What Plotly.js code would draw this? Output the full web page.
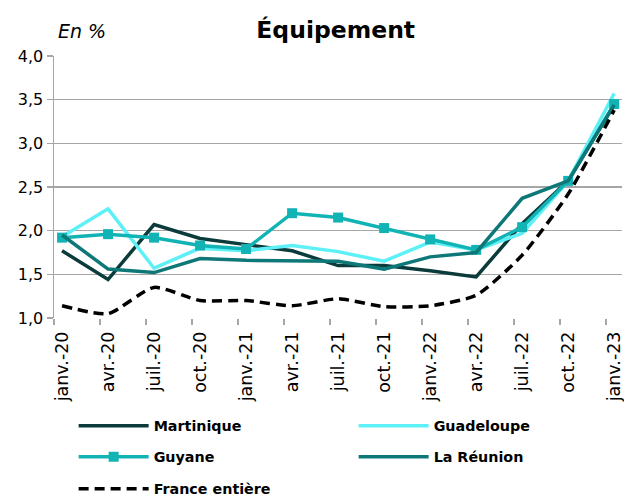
<!DOCTYPE html>
<html><head><meta charset="utf-8">
<script src="https://cdn.plot.ly/plotly-3.0.1.min.js"></script>
<style>body{margin:0;background:#fff}#c{width:624px;height:497px}</style>
</head><body><div id="c"></div>
<script>
const categories = ["janv.-20","avr.-20","juil.-20","oct.-20","janv.-21","avr.-21","juil.-21","oct.-21","janv.-22","avr.-22","juil.-22","oct.-22","janv.-23"];
const martinique = [1.77,1.44,2.07,1.91,1.84,1.77,1.60,1.60,1.54,1.47,2.08,2.57,3.44];
const guadeloupe = [1.93,2.25,1.57,1.80,1.77,1.83,1.76,1.65,1.87,1.78,1.97,2.57,3.57];
const guyane = [1.92,1.96,1.92,1.83,1.79,2.20,2.15,2.03,1.90,1.78,2.04,2.57,3.45];
const reunion = [1.95,1.56,1.52,1.68,1.66,1.65,1.65,1.56,1.70,1.75,2.37,2.57,3.44];
const france = [1.14,1.05,1.35,1.20,1.20,1.14,1.22,1.13,1.14,1.26,1.72,2.42,3.38];
const yTicks = [1.0,1.5,2.0,2.5,3.0,3.5,4.0];
const yTickText = ["1,0","1,5","2,0","2,5","3,0","3,5","4,0"];

const font = "DejaVu Sans, Verdana, sans-serif";
const traces = [
  {name:"Martinique", y:martinique, line:{color:"#0C3B3B", width:3.5}, legend:"legend"},
  {name:"Guadeloupe", y:guadeloupe, line:{color:"#5DF0F6", width:3.5}, legend:"legend"},
  {name:"Guyane", y:guyane, line:{color:"#12B3B5", width:3.5}, mode:"lines+markers", marker:{symbol:"square", size:10, color:"#12B3B5"}, legend:"legend2"},
  {name:"La Réunion", y:reunion, line:{color:"#0E7878", width:3.5}, legend:"legend2"},
  {name:"France entière", y:france, line:{color:"#000000", width:3.5, dash:"10px,6px", shape:"spline", smoothing:0.6}, legend:"legend3"}
].map(t => Object.assign({type:"scatter", mode:"lines", x:categories, hoverinfo:"skip"}, t));

// tick-mark-only overlay axis (invisible point below range)
traces.push({type:"scatter", mode:"markers", x:[0], y:[0], xaxis:"x2", yaxis:"y", showlegend:false, hoverinfo:"skip", marker:{opacity:0}});

const n = categories.length;
const xr = [-0.175, n - 1 + 0.17];
const legendBase = {orientation:"h", xref:"container", yref:"container", x:0.118, xanchor:"left", yanchor:"middle",
  entrywidth:195, entrywidthmode:"pixels", itemwidth:70, bgcolor:"rgba(0,0,0,0)",
  font:{family:font, size:14.3, color:"#000", weight:"bold"}, traceorder:"normal", itemclick:false};
const layout = {
  width:624, height:497,
  margin:{l:54, r:2, t:56, b:179, autoexpand:false},
  paper_bgcolor:"#fff", plot_bgcolor:"#fff",
  font:{family:font, color:"#000", size:14},
  title:{text:"<b>Équipement</b>", font:{size:23.5, family:font, color:"#000"}, x:0.538, xanchor:"center", y:0.94, yanchor:"middle", xref:"container", yref:"container"},
  showlegend:true,
  legend:Object.assign({}, legendBase, {y:1 - 426/497}),
  legend2:Object.assign({}, legendBase, {y:1 - 457/497}),
  legend3:Object.assign({}, legendBase, {y:1 - 489/497}),
  xaxis:{type:"category", range:xr, showgrid:false, ticks:"", tickangle:-90, tickfont:{size:17.5, family:font},
    ticklabelstandoff:9, showline:false, zeroline:false, fixedrange:true},
  xaxis2:{type:"linear", overlaying:"x", anchor:"y", side:"bottom", range:xr, tickvals:categories.map((c,i)=>i-0.175), ticks:"outside", ticklen:6, tickcolor:"#a6a6a6", tickwidth:1.5, showticklabels:false, showgrid:false, zeroline:false, showline:false},
  yaxis:{range:[1.0,4.0], tickvals:yTicks, ticktext:yTickText, showgrid:true, gridcolor:"#a6a6a6", gridwidth:1.5,
    showline:true, linecolor:"#a6a6a6", linewidth:1.5, ticks:"outside", ticklen:6, tickcolor:"#a6a6a6", tickwidth:1.5,
    tickfont:{size:16, family:font}, zeroline:false, fixedrange:true},
  annotations:[{text:"<i>En %</i>", xref:"paper", yref:"paper", x:0.004, y:(318-31)/262, xanchor:"left", yanchor:"middle", showarrow:false, font:{size:19, family:font}}]
};
Plotly.newPlot("c", traces, layout, {displayModeBar:false, staticPlot:true});
</script></body></html>
